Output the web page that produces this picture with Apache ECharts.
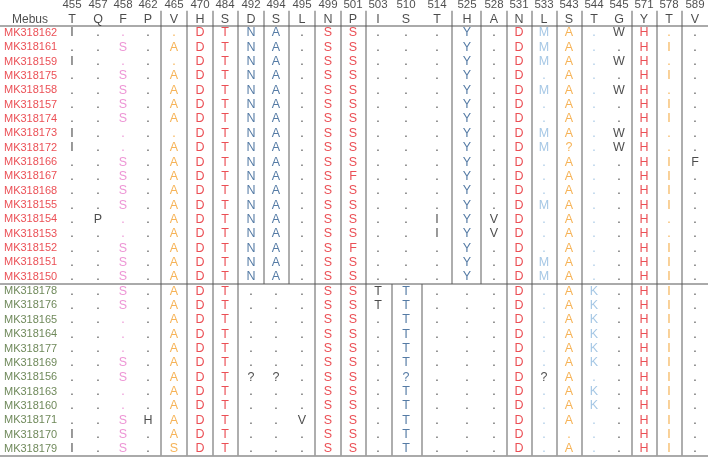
<!DOCTYPE html>
<html>
<head>
<meta charset="utf-8">
<script src="https://cdn.jsdelivr.net/npm/echarts@6/dist/echarts.min.js"></script>
<style>html,body{margin:0;padding:0;background:#fff}#c{width:708px;height:457px}</style>
</head>
<body>
<div id="c"></div>
<script>
// ---------- DATA ----------
const positions = ['455','457','458','462','465','470','484','492','494','495','499','501','503','510','514','525','528','531','533','543','544','545','571','578','589'];
const refAA     = ['T','Q','F','P','V','H','S','D','S','L','N','P','I','S','T','H','A','N','L','S','T','G','Y','T','V'];

const redNames = ['MK318162','MK318161','MK318159','MK318175','MK318158','MK318157','MK318174','MK318173','MK318172','MK318166','MK318167','MK318168','MK318155','MK318154','MK318153','MK318152','MK318151','MK318150'];
const redSeqs = [
  'I....DTNA.SS...Y.DMA.WH..',
  '..S.ADTNA.SS...Y.DMA..HI.',
  'I....DTNA.SS...Y.DMA.WH..',
  '..S.ADTNA.SS...Y.D.A..HI.',
  '..S.ADTNA.SS...Y.DMA.WH..',
  '..S.ADTNA.SS...Y.D.A..HI.',
  '..S.ADTNA.SS...Y.D.A..HI.',
  'I....DTNA.SS...Y.DMA.WH..',
  'I...ADTNA.SS...Y.DM?.WH..',
  '..S.ADTNA.SS...Y.D.A..HIF',
  '..S.ADTNA.SF...Y.D.A..HI.',
  '..S.ADTNA.SS...Y.D.A..HI.',
  '..S.ADTNA.SS...Y.DMA..HI.',
  '.P..ADTNA.SS..IYVD.A..H..',
  '....ADTNA.SS..IYVD.A..H..',
  '..S.ADTNA.SF...Y.D.A..HI.',
  '..S.ADTNA.SS...Y.DMA..HI.',
  '..S.ADTNA.SS...Y.DMA..HI.'
];
const greenNames = ['MK318178','MK318176','MK318165','MK318164','MK318177','MK318169','MK318156','MK318163','MK318160','MK318171','MK318170','MK318179'];
const greenSeqs = [
  '..S.ADT...SSTT...D.AK.HI.',
  '..S.ADT...SSTT...D.AK.HI.',
  '....ADT...SS.T...D.AK.HI.',
  '....ADT...SS.T...D.AK.HI.',
  '....ADT...SS.T...D.AK.HI.',
  '..S.ADT...SS.T...D.AK.HI.',
  '..S.ADT??.SS.?...D?A..HI.',
  '....ADT...SS.T...D.AK.HI.',
  '....ADT...SS.T...D.AK.HI.',
  '..SHADT..VSS.T...D.A..HI.',
  'I.S.ADT...SS.T...D....HI.',
  'I.S.SDT...SS.T...D.A..HI.'
];

// ---------- LAYOUT / STYLE ----------
const colX = [72,98,123,148,174,200,225,251,276,302,328,353,378,406,437,467,494,519,544,569,594,619,644,669,695];
const K='#1e1e1e', RED='#e6232a', PINK='#e87acb', ORG='#f4a02e', DB='#2b5a8e', LB='#8fb9df';
const letterColor = [K,K,PINK,K,ORG,RED,RED,DB,DB,K,RED,RED,K,DB,K,DB,K,RED,LB,ORG,LB,K,RED,ORG,K];
const dotColor    = [K,K,PINK,K,ORG,K,K,K,K,K,K,K,K,K,K,K,K,K,LB,ORG,LB,K,K,ORG,K];
const qBlack = {7:1,8:1,18:1};
// separators after column k: 'all' | 'red' | 'green'
const seps = [[3,'all'],[4,'all'],[5,'all'],[6,'all'],[7,'red'],[8,'red'],[9,'all'],[10,'all'],[11,'all'],
              [12,'green'],[13,'green'],[14,'red'],[15,'red'],[16,'all'],[17,'all'],[18,'all'],[19,'all'],
              [21,'all'],[22,'all'],[23,'all']];
const nRed = redNames.length, nAll = redNames.length + greenNames.length;
const yNum = -1.95, yRef = -0.94, yLineTop = -1.55, yBottom = nAll - 0.55;

const cells = [], names = [], heads = [];
function addRows(nm, seqs, off, nameColor) {
  nm.forEach((n, i) => {
    const r = off + i;
    names.push({value:[4, r], ch:n, label:{color:nameColor}});
    for (let c = 0; c < seqs[i].length; c++) {
      const ch = seqs[i][c];
      let col;
      if (ch === '.') col = dotColor[c];
      else if (ch === '?') col = qBlack[c] ? K : letterColor[c];
      else col = letterColor[c];
      cells.push({value:[colX[c], r], ch:ch, label:{color:col}});
    }
  });
}
addRows(redNames, redSeqs, 0, '#e6232a');
addRows(greenNames, greenSeqs, nRed, '#4a6a2f');
positions.forEach((p, c) => heads.push({value:[colX[c], yNum], ch:p, label:{fontSize:11.5}}));
refAA.forEach((a, c) => heads.push({value:[colX[c], yRef], ch:a, label:{fontSize:12.5}}));
heads.push({value:[30, yRef], ch:'Mebus', label:{fontSize:12}});

const lineData = [];
seps.forEach(([k, sec]) => {
  const x = (colX[k] + colX[k+1]) / 2;
  let y1 = yLineTop, y2 = yBottom;
  if (sec === 'red') y2 = nRed - 0.5;
  if (sec === 'green') y1 = nRed - 0.5;
  lineData.push({coords:[[x, y1],[x, y2]], lineStyle:{width:1.5, color:'#2a2a2a'}});
});
[-0.5, nRed - 0.5, yBottom].forEach(y => lineData.push({coords:[[0, y],[708, y]], lineStyle:{width:1.8, color:'#555'}}));

const chart = echarts.init(document.getElementById('c'), null, {renderer:'canvas'});
const txtSeries = (name, data, align, size) => ({
  type:'scatter', name, data, symbolSize:1, itemStyle:{color:'transparent'}, silent:true,
  label:{show:true, position:'inside', align, verticalAlign:'middle', fontFamily:'Liberation Sans, Arial, sans-serif',
         fontSize:size, color:K, formatter:p => p.data.ch},
  emphasis:{disabled:true}, z:3
});
chart.setOption({
  animation:false,
  grid:{left:0, right:0, top:0, bottom:0},
  xAxis:{type:'value', min:0, max:708, show:false},
  yAxis:{type:'value', inverse:true, min:-2.301, max:29.567, show:false},
  series:[
    {type:'lines', coordinateSystem:'cartesian2d', polyline:false, data:lineData, silent:true, z:1},
    txtSeries('cells', cells, 'center', 12.5),
    txtSeries('names', names, 'left', 11),
    txtSeries('heads', heads, 'center', 11.5)
  ]
});
</script>
</body>
</html>
